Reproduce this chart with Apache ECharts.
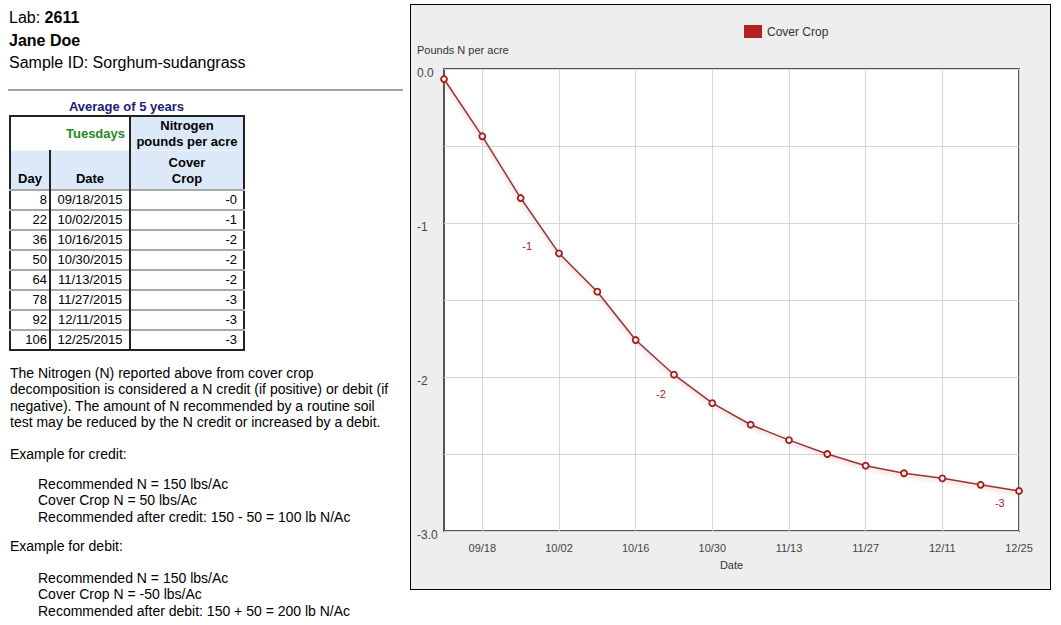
<!DOCTYPE html>
<html>
<head>
<meta charset="utf-8">
<title>Cover Crop Nitrogen</title>
<script src="https://cdn.jsdelivr.net/npm/echarts@6/dist/echarts.min.js"></script>
<style>
    body { margin: 0; width: 1061px; height: 625px; overflow: hidden; position: relative;
           font-family: Arial, "Liberation Sans", sans-serif; color: #000; background: #fff; }
    .head { position: absolute; left: 9px; top: 7px; font-size: 16px; line-height: 22.5px; white-space: nowrap; }
    .rule { position: absolute; left: 8px; top: 89px; width: 395px; height: 0; border-top: 2px solid #a0a0a0; }
    .caption { position: absolute; left: 9px; top: 99px; width: 235px; text-align: center;
               font-weight: bold; font-size: 13px; color: #1c1c78; }
    table.nt { position: absolute; left: 9px; top: 115px; border-collapse: collapse; font-size: 13px;
               border: 2px solid #222; }
    table.nt th { font-weight: bold; padding: 0; }
    table.nt .tues { text-align: right; color: #1f8a1f; background: #fff; padding-right: 4px;
                     border-right: 2px solid #222; height: 33px; }
    table.nt .blue { background: #dbe9f8; text-align: center; line-height: 16px; }
    table.nt tr.h2 th { vertical-align: bottom; height: 36px; border-top: 1px solid #eef3fa; padding-bottom: 2px; }
    table.nt tr.h2 th.day { border-right: 2px solid #222; }
    table.nt tr.h2 th.date { border-right: 2px solid #222; }
    table.nt td { border-top: 2px solid #a8a8a8; height: 18px; padding: 0; line-height: 18px; }
    table.nt td.c1 { width: 36px; text-align: right; padding-right: 2px; border-right: 2px solid #222; }
    table.nt td.c2 { width: 78px; text-align: center; border-right: 2px solid #222; }
    table.nt td.c3 { width: 106px; text-align: right; padding-right: 6px; }
    .txt { position: absolute; left: 10px; font-size: 14px; line-height: 16.3px; white-space: nowrap; }
    .ind { left: 38px; }
    #chart { position: absolute; left: 410px; top: 4px; width: 639px; height: 584px;
             border: 1px solid #000; background: #eeeeee; }
</style>
</head>
<body>
<div class="head">Lab: <b>2611</b><br><b>Jane Doe</b><br>Sample ID: Sorghum-sudangrass</div>
<div class="rule"></div>
<div class="caption">Average of 5 years</div>
<table class="nt" id="ntable"></table>

<div class="txt" style="top:365px">The Nitrogen (N) reported above from cover crop<br>decomposition is considered a N credit (if positive) or debit (if<br>negative). The amount of N recommended by a routine soil<br>test may be reduced by the N credit or increased by a debit.</div>
<div class="txt" style="top:446px">Example for credit:</div>
<div class="txt ind" style="top:476px">Recommended N = 150 lbs/Ac<br>Cover Crop N = 50 lbs/Ac<br>Recommended after credit: 150 - 50 = 100 lb N/Ac</div>
<div class="txt" style="top:538px">Example for debit:</div>
<div class="txt ind" style="top:570px">Recommended N = 150 lbs/Ac<br>Cover Crop N = -50 lbs/Ac<br>Recommended after debit: 150 + 50 = 200 lb N/Ac</div>

<div id="chart"></div>

<script>
// table data
var tableDays = [8, 22, 36, 50, 64, 78, 92, 106];
var tableDates = ['09/18/2015', '10/02/2015', '10/16/2015', '10/30/2015', '11/13/2015', '11/27/2015', '12/11/2015', '12/25/2015'];
var tableValues = ['-0', '-1', '-2', '-2', '-2', '-3', '-3', '-3'];

// chart data (day 0 = 09/10/2015)
var pointDays = [1, 8, 15, 22, 29, 36, 43, 50, 57, 64, 71, 78, 85, 92, 99, 106];
var coverCrop = [-0.065, -0.437, -0.838, -1.197, -1.446, -1.76, -1.985, -2.17, -2.31, -2.41, -2.50, -2.576, -2.625, -2.658, -2.70, -2.74];
var xTickDays = [8, 22, 36, 50, 64, 78, 92, 106];
var xTickLabels = ['09/18', '10/02', '10/16', '10/30', '11/13', '11/27', '12/11', '12/25'];
var yTickValues = [0, -1, -2, -3];
var yTickLabels = ['0.0', '-1', '-2', '-3.0'];
var noteDays = [16.2, 40.6, 102.5];
var noteValues = [-1.15, -2.11, -2.82];
var noteLabels = ['-1', '-2', '-3'];

// build the table
var html = '<tr><th class="tues" colspan="2">Tuesdays</th><th class="blue">Nitrogen<br>pounds per acre</th></tr>' +
    '<tr class="h2"><th class="blue day">Day</th><th class="blue date">Date</th><th class="blue">Cover<br>Crop</th></tr>';
for (var i = 0; i < tableDays.length; i++) {
    html += '<tr><td class="c1">' + tableDays[i] + '</td><td class="c2">' + tableDates[i] +
        '</td><td class="c3">' + tableValues[i] + '</td></tr>';
}
document.getElementById('ntable').innerHTML = html;

var lineData = pointDays.map(function (d, i) { return [d, coverCrop[i]]; });
var noteData = noteDays.map(function (d, i) { return [d, noteValues[i]]; });

var myChart = echarts.init(document.getElementById('chart'), null, { renderer: 'svg' });
myChart.setOption({
    animation: false,
    textStyle: { fontFamily: 'Arial, "Liberation Sans", sans-serif' },
    title: {
        text: 'Pounds N per acre', left: 6, top: 39, padding: 0,
        textStyle: { fontSize: 11, fontWeight: 'normal', color: '#333' }
    },
    legend: {
        left: 333, top: 20, padding: 0, itemWidth: 18, itemHeight: 13, itemGap: 10,
        textStyle: { fontSize: 12, color: '#333' },
        data: [{ name: 'Cover Crop', icon: 'rect', itemStyle: { color: '#b22222', borderWidth: 0 } }]
    },
    grid: {
        left: 33, top: 64, width: 575, height: 462,
        show: true, backgroundColor: '#fff', borderColor: '#555', borderWidth: 2
    },
    xAxis: {
        type: 'value', min: 1, max: 106,
        name: 'Date', nameLocation: 'middle', nameGap: 28,
        nameTextStyle: { fontSize: 11, color: '#333' },
        axisLine: { show: false },
        axisTick: { show: false, customValues: xTickDays },
        axisLabel: {
            customValues: xTickDays, margin: 11, fontSize: 11, color: '#444',
            formatter: function (v) { return xTickLabels[xTickDays.indexOf(v)]; }
        },
        splitLine: { show: true, lineStyle: { color: '#d6d6d6', width: 1 } }
    },
    yAxis: {
        type: 'value', min: -3, max: 0, interval: 0.5,
        axisLine: { show: false },
        axisTick: { show: false },
        axisLabel: {
            margin: 27, align: 'left', color: '#444',
            formatter: function (v) {
                var k = yTickValues.indexOf(v);
                return k >= 0 ? '{a|' + yTickLabels[k] + '}' : '';
            },
            rich: { a: { fontSize: 12, color: '#444', padding: [7, 0, 0, 0] } }
        },
        splitLine: { show: true, lineStyle: { color: '#d6d6d6', width: 1 } }
    },
    series: [
        {
            name: 'Cover Crop', type: 'line', data: lineData, smooth: false,
            symbol: 'circle', symbolSize: 6, showAllSymbol: true,
            lineStyle: { color: '#963434', width: 1.5, shadowColor: 'rgba(190,80,80,0.45)', shadowBlur: 4, shadowOffsetY: 2 },
            itemStyle: { color: '#f6eaea', borderColor: '#a02020', borderWidth: 1.8 },
            z: 3
        },
        {
            name: 'notes', type: 'scatter', data: noteData, symbolSize: 1,
            itemStyle: { color: 'transparent' },
            label: {
                show: true, position: 'inside', fontSize: 11, color: '#b01818', opacity: 1,
                formatter: function (p) { return noteLabels[p.dataIndex]; }
            },
            z: 4
        }
    ]
});
</script>
</body>
</html>
